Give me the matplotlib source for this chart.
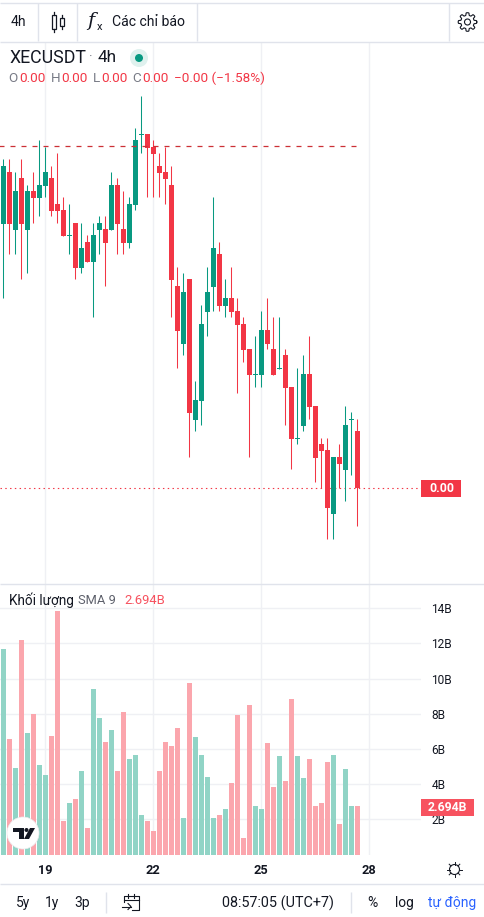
import numpy as np
import matplotlib
matplotlib.use('Agg')
import matplotlib.pyplot as plt
from matplotlib.patches import Circle, Polygon, Rectangle

plt.rcParams['font.family'] = ['Roboto', 'DejaVu Sans']

# price scale is not readable on the chart (everything shows 0.00), values are in chart units
opens = [376, 428, 370, 422, 370, 409, 402, 414, 422, 396,
         390, 364, 377, 332, 358, 338, 370, 371, 370, 415,
         371, 357, 395, 465, 466, 453, 434, 428, 415, 314,
         256, 321, 180, 199, 288, 313, 346, 294, 302, 289,
         276, 251, 225, 225, 270, 251, 231, 245, 213, 161,
         174, 226, 194, 156, 150, 86, 143, 130, 180, 169]
highs = [441, 441, 428, 441, 415, 428, 460, 453, 434, 447,
         403, 396, 377, 377, 365, 377, 384, 384, 428, 422,
         409, 403, 472, 504, 466, 460, 447, 453, 434, 333,
         327, 321, 219, 295, 333, 403, 358, 321, 333, 302,
         283, 251, 264, 289, 302, 283, 283, 251, 213, 232,
         245, 264, 194, 162, 162, 143, 156, 194, 188, 181]
lows = [302, 346, 346, 321, 327, 377, 384, 403, 384, 377,
        364, 346, 321, 327, 338, 283, 346, 314, 370, 346,
        346, 352, 390, 447, 403, 403, 403, 396, 283, 232,
        245, 143, 169, 175, 264, 289, 289, 283, 283, 207,
        238, 143, 213, 213, 251, 225, 231, 175, 131, 156,
        169, 181, 118, 112, 61, 61, 112, 99, 125, 74]
closes = [434, 376, 409, 376, 409, 402, 415, 428, 389, 389,
          364, 365, 332, 352, 338, 365, 377, 357, 415, 376,
          357, 396, 460, 466, 452, 446, 427, 421, 320, 269,
          308, 187, 200, 276, 308, 352, 294, 302, 288, 275,
          250, 225, 226, 270, 256, 225, 232, 212, 161, 162,
          226, 193, 142, 149, 92, 143, 136, 175, 181, 112]
# volume in billions
volumes = [11.70, 6.59, 4.94, 12.16, 6.88, 8.01, 5.11, 4.49, 6.76, 13.84,
           1.88, 2.95, 3.13, 4.72, 1.53, 9.43, 7.78, 6.42, 7.05, 4.72,
           8.07, 5.45, 5.63, 2.27, 1.93, 1.31, 4.72, 6.42, 6.14, 7.16,
           2.05, 9.77, 6.70, 5.68, 4.43, 2.05, 2.27, 2.56, 4.09, 7.95,
           0.91, 8.47, 2.73, 2.56, 6.36, 3.81, 5.57, 4.15, 8.86, 5.57,
           4.32, 5.40, 2.73, 2.90, 5.28, 5.63, 1.76, 4.83, 2.73, 2.73]
vol_ticks = [2, 4, 6, 8, 10, 12, 14]
vol_tick_labels = ['2B', '4B', '6B', '8B', '10B', '12B', '14B']
day_ticks = [7, 25, 43, 61]
day_labels = ['19', '22', '25', '28']
dashed_level = 454.5
last_price = 112
last_volume = 2.694

GREEN = '#089981'
RED = '#f23645'
GREEN_V = '#91d4c6'
RED_V = '#fba6ad'
GRID = '#eff0f4'
CHROME = '#e0e3eb'
INK = '#131722'
GREY = '#787b86'

W, H = 484, 917
fig = plt.figure(figsize=(W / 100, H / 100), dpi=100)

x = np.arange(len(opens))
o = np.array(opens)
c = np.array(closes)
up = c > o
xlim = (-3.33 / 6, (421 - 3.33) / 6)

# candle pane
ax = fig.add_axes([0, (H - 584) / H, 421 / W, (584 - 42) / H])
ax.vlines(x, lows, highs, colors=[GREEN if u else RED for u in up], lw=0.75, zorder=3)
ax.bar(x, np.abs(c - o), bottom=np.minimum(o, c), width=5 / 6,
       color=[GREEN if u else RED for u in up], zorder=4)
ax.axhline(last_price, color=RED, lw=0.8, ls=(0, (1.3, 3)), zorder=2)
ax.plot([-1, x[-1]], [dashed_level, dashed_level], color='#cc3036', lw=0.9, ls=(0, (4, 4.8)), zorder=5)
ax.set_xlim(xlim)
ax.set_ylim(16, 558)
ax.set_xticks(day_ticks)
ax.set_yticks([])
ax.tick_params(length=0, labelbottom=False)
ax.grid(axis='x', color=GRID, lw=1.0)
ax.set_axisbelow(True)
for s in ax.spines.values():
    s.set_visible(False)
ax.add_patch(Rectangle((1.0, last_price - 8.5), 40 / 421, 17, transform=ax.get_yaxis_transform(),
                       fc=RED, ec='none', clip_on=False, zorder=5))
ax.text(1.0 + 20.5 / 421, last_price, '0.00', transform=ax.get_yaxis_transform(), color='white',
        fontsize=8.8, weight='bold', ha='center', va='center', zorder=6, clip_on=False)

# volume pane
ax2 = fig.add_axes([0, (H - 854.5) / H, 421 / W, (854.5 - 584) / H])
ax2.bar(x, volumes, width=5 / 6, color=[GREEN_V if u else RED_V for u in up], zorder=3)
ax2.set_xlim(xlim)
ax2.set_ylim(0, (854.5 - 584) / 17.6)
ax2.set_xticks(day_ticks)
ax2.set_xticklabels(day_labels, fontsize=9.2, weight='bold', color=INK)
ax2.set_yticks(vol_ticks)
ax2.set_yticklabels(vol_tick_labels, fontsize=8.6, color=INK)
ax2.yaxis.tick_right()
ax2.tick_params(axis='x', length=0, pad=6.5)
ax2.tick_params(axis='y', length=0, pad=7.4)
ax2.grid(color=GRID, lw=1.0)
ax2.set_axisbelow(True)
for s in ax2.spines.values():
    s.set_visible(False)
ax2.add_patch(Rectangle((1.0, last_volume - 8.5 / 17.6), 53 / 421, 17 / 17.6,
                        transform=ax2.get_yaxis_transform(), fc='#f7525f', ec='none',
                        clip_on=False, zorder=5))
ax2.text(1.0 + 26.5 / 421, last_volume, '2.694B', transform=ax2.get_yaxis_transform(), color='white',
         fontsize=8.8, weight='bold', ha='center', va='center', zorder=6, clip_on=False)

# toolbars, legends and logo, in pixel coordinates
ui = fig.add_axes([0, 0, 1, 1], zorder=10)
ui.set_xlim(0, W)
ui.set_ylim(H, 0)
ui.axis('off')
ui.patch.set_alpha(0)


def label(px, py, s, color=INK, size=10.0, **kw):
    ui.text(px, py, s, color=color, fontsize=size, va='center', **kw)


for seg in [((0, 2.5), (W, 2.5)), ((0, 41.5), (W, 41.5)), ((0, 584), (W, 584)), ((0, 883.5), (W, 883.5)),
            ((37.5, 2.5), (37.5, 41)), ((76.5, 2.5), (76.5, 41)), ((196.5, 2.5), (196.5, 41)),
            ((448.5, 2.5), (448.5, 41)), ((105.5, 892), (105.5, 913)), ((350.5, 892), (350.5, 913))]:
    ui.plot(*zip(*seg), color=CHROME, lw=1.0, solid_capstyle='butt')

label(11, 22, '4h')
label(112, 22, 'Các chỉ báo', size=10.1)

# candle icon
for cx, y0, y1, t, b in [(54, 12, 32, 15, 29), (61.5, 15, 29, 18, 26)]:
    ui.plot([cx, cx], [y0, t], color=INK, lw=0.9)
    ui.plot([cx, cx], [b, y1], color=INK, lw=0.9)
    ui.add_patch(Rectangle((cx - 2, t), 4, b - t, fc='white', ec=INK, lw=0.9))

# fx icon
ui.text(91, 21.5, 'f', style='italic', family='DejaVu Serif', fontsize=14, color=INK, ha='center', va='center')
ui.text(100, 27, 'x', fontsize=8, color=INK, ha='center', va='center')

# gear icon
t = np.linspace(0, 2 * np.pi, 241)
r = 8.0 + 1.3 * np.tanh(3 * np.cos(8 * t))
ui.plot(467.5 + r * np.cos(t), 22 + r * np.sin(t), color=INK, lw=0.8)
ui.add_patch(Circle((467.5, 22), 3, fc='none', ec=INK, lw=0.8))

# symbol line
label(9, 58, 'XECUSDT', size=12.8)
label(89.5, 58, '·', color=GREY, size=10)
label(98, 58, '4h', size=12.4)
ui.add_patch(Circle((139, 58), 9, fc='#dff1ee', ec='none'))
ui.add_patch(Circle((139, 58), 4, fc=GREEN, ec='none'))

# ohlc line
for px, s in [(8, 'O'), (50.5, 'H'), (92.5, 'L'), (132.5, 'C')]:
    label(px, 78, s, color=GREY, size=9.7)
for px in [19.5, 61.5, 101, 142.5]:
    label(px, 78, '0.00', color=RED, size=9.7)
label(174, 78, '−0.00 (−1.58%)', color=RED, size=9.7)

# volume legend
label(9, 600, 'Khối lượng', size=9.8)
label(78, 600, 'SMA 9', color='#5d606b', size=9.3)
label(124, 600, '2.694B', color='#f7525f', size=9.4)

# tradingview badge
ui.add_patch(Circle((23, 833), 16, fc='white', ec='#ececee', lw=0.5))
ui.add_patch(Polygon([(13, 828), (24, 828), (24, 839), (19, 839), (19, 832), (13, 832)], fc=INK, ec='none'))
ui.add_patch(Circle((26.5, 830), 2, fc=INK, ec='none'))
ui.add_patch(Polygon([(30, 828), (35, 828), (29, 839), (24, 839)], fc=INK, ec='none'))

# sun icon under the time axis
ui.add_patch(Circle((454.5, 869.5), 5, fc='none', ec=INK, lw=0.8))
for a in np.arange(0, 2 * np.pi, np.pi / 4):
    ui.plot([454.5 + 5 * np.cos(a), 454.5 + 7.5 * np.cos(a)],
            [869.5 + 5 * np.sin(a), 869.5 + 7.5 * np.sin(a)], color=INK, lw=0.7)

# bottom bar
label(16, 903, '5y')
label(45, 903, '1y')
label(74, 903, '3p')
label(222, 903, '08:57:05 (UTC+7)', size=10.4)
label(367, 903, '%')
label(395, 903, 'log')
label(428, 903, 'tự động', color='#2962ff')

# calendar icon
ui.plot([123.5, 123.5, 138.5, 138.5, 132], [902, 896, 896, 910, 910], color=INK, lw=0.8)
ui.plot([123.5, 138.5], [900, 900], color=INK, lw=0.8)
ui.plot([128, 128], [894, 898], color=INK, lw=0.8)
ui.plot([134, 134], [894, 898], color=INK, lw=0.8)
ui.plot([122, 131], [906.5, 906.5], color=INK, lw=0.8)
ui.plot([128, 131, 128], [903.5, 906.5, 909.5], color=INK, lw=0.8)

fig.savefig('out.png', dpi=100)
